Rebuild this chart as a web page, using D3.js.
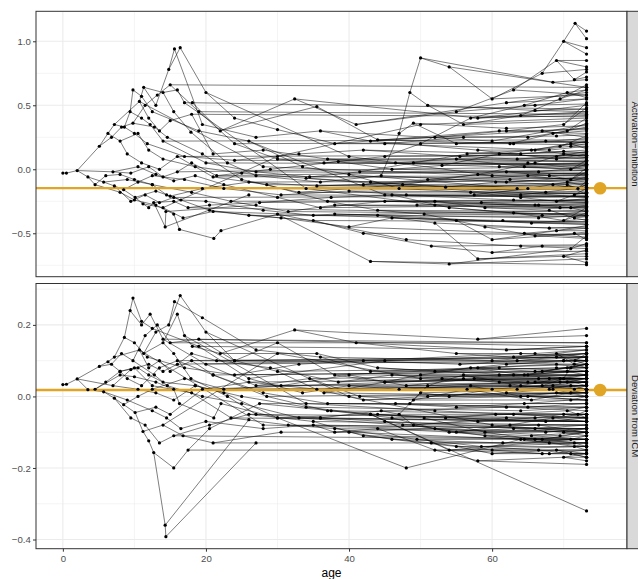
<!DOCTYPE html>
<html><head><meta charset="utf-8">
<script src="https://cdn.jsdelivr.net/npm/d3@7"></script>
<style>
body{margin:0;background:#fff}
svg{display:block}
text{font-family:"Liberation Sans",Arial,Helvetica,sans-serif}
</style>
</head><body>
<svg id="chart" width="638" height="579"></svg>
<script>
// ---------------- DATA ----------------
// Internal lineage nodes (index = id): parent id, age, activation-inhibition, deviation from ICM
const nodeParent = [
  -1, 0, 1, 2, 3, 4, 5, 6, 7, 5,
  9, 9, 4, 2, 13, 13, 15, 16, 17, 18,
  19, 20, 21, 22, 2, 24, 24, 14, 27, 15,
  10, 30, 31, 31, 10, 34, 35, 34, 11, 38,
  8, 40, 12, 42, 6, 44, 43, 36, 39, 37,
  25, 50, 51, 26, 53, 28, 55, 56, 29, 58,
  59, 18, 61, 19, 63, 21, 65, 22, 23, 52,
  54, 57, 71, 47, 48, 49, 33, 76, 32, 69,
  70, 60, 64, 66, 62, 46, 45, 86, 41, 88,
  73, 73, 77, 74, 75, 79, 80, 81, 82, 83,
  84, 85, 87, 89, 72, 78, 90, 91, 92, 93,
  94, 95, 96, 97, 98, 99, 100, 101, 102, 103,
  104, 105, 113, 110, 123, 124, 125, 126, 125, 124,
  111, 112, 114, 116, 117, 119, 122, 115, 108, 109,
  121, 106, 107, 118, 127, 128, 129, 130, 131, 132,
  133, 134, 135, 136, 137, 138, 139, 140, 120, 153,
  149, 148, 151, 150, 147, 142, 141, 145, 143, 146,
  152, 154, 155, 156, 157, 144, 166, 175, 177, 167,
  165, 168, 163, 164, 162, 169, 170, 171, 161, 160,
  159, 172, 173, 174, 158, 176, 186, 182, 188, 184,
  3, 200, 201, 202, 203, 204, 202, 206, 7, 208,
  209, 12, 211, 212, 213, 14, 215, 216, 217, 16,
  219, 220, 221, 17, 223, 205, 225, 226, 207, 228,
  210, 230, 214, 232, 218, 234, 222, 236, 224, 238,
  227, 229, 231, 233, 235, 237, 239, 244, 245, 246,
  243, 242, 240, 252, 251, 249, 250, 248, 247, 241,
  253, 254, 255, 256, 257, 258, 259, 260, 261, 262,
  263, 264, 265, 266, 267, 268, 269, 270, 272, 273,
  106, 141, 90, 108, 118, 121, 140, 138, 157, 130,
  133, 119, 135, 116, 117, 134, 131, 148, 154, 137,
  136, 153, 132, 114, 122, 146, 129, 139, 128, 126,
  142, 107, 143, 111, 123, 36, 315, 9, 76, 318,
  63, 320, 104, 322, 89
];
const nodeAge = [
  0, 0.5, 2.0, 5.1, 6.3, 7.2, 8.6, 9.4, 9.8, 10.7,
  11.3, 12.0, 8.0, 3.5, 4.5, 5.7, 7.2, 8.5, 10.1, 11.2,
  12.0, 12.7, 14.3, 14.4, 7.0, 9.5, 10.5, 8.0, 10.0, 9.0,
  13.0, 14.8, 15.6, 16.4, 14.0, 16.0, 17.0, 15.5, 13.5, 15.0,
  11.0, 12.5, 10.5, 12.0, 10.0, 11.8, 14.0, 18.1, 18.0, 17.9,
  12.0, 14.0, 16.0, 13.0, 15.5, 13.0, 15.5, 16.3, 12.5, 14.5,
  16.5, 13.0, 15.0, 14.0, 16.8, 15.5, 17.5, 26.0, 27.0, 18.0,
  18.5, 21.1, 22.1, 22.0, 21.0, 23.0, 20.0, 24.0, 19.5, 21.5,
  22.5, 20.0, 21.0, 20.5, 19.5, 18.5, 17.0, 24.0, 19.0, 26.0,
  32.4, 35.5, 30.0, 28.0, 27.0, 29.0, 30.0, 28.0, 30.5, 27.5,
  26.0, 25.0, 33.0, 33.5, 30.0, 27.0, 41.0, 44.0, 38.0, 37.0,
  36.0, 38.5, 36.0, 35.0, 40.0, 37.5, 35.5, 34.0, 42.0, 40.0,
  43.0, 36.0, 38.0, 44.5, 47.0, 48.5, 50.0, 54.0, 51.0, 49.0,
  46.0, 45.0, 46.0, 42.0, 43.0, 47.0, 44.0, 46.0, 45.0, 46.5,
  43.0, 55.0, 52.0, 55.5, 60.0, 56.0, 55.0, 53.0, 52.0, 55.0,
  51.0, 53.5, 57.0, 52.0, 54.0, 56.0, 55.0, 58.0, 54.0, 58.0,
  60.0, 59.0, 60.5, 62.0, 61.0, 62.0, 63.0, 64.0, 63.5, 62.5,
  64.0, 63.0, 65.0, 64.5, 66.0, 67.0, 69.0, 70.0, 71.6, 69.5,
  70.0, 69.0, 68.0, 69.5, 70.5, 68.5, 69.0, 70.0, 68.0, 69.0,
  70.0, 70.5, 71.0, 71.0, 71.0, 71.5, 71.5, 71.0, 71.5, 72.0,
  6.8, 8.2, 9.8, 11.5, 13.2, 15.0, 12.8, 14.6, 11.0, 12.2,
  14.0, 9.0, 11.0, 13.5, 16.0, 6.0, 8.0, 10.0, 12.5, 9.5,
  11.5, 13.5, 15.5, 10.5, 12.5, 19.0, 24.0, 30.0, 19.5, 25.0,
  20.0, 27.0, 21.0, 28.5, 18.0, 23.5, 20.5, 26.0, 17.0, 22.5,
  36.5, 33.0, 34.5, 37.0, 31.5, 35.0, 30.5, 38.0, 42.0, 40.0,
  44.0, 41.5, 45.0, 50.0, 49.0, 48.0, 50.5, 51.5, 49.5, 47.5,
  57.0, 56.5, 57.5, 59.0, 60.0, 58.5, 58.0, 64.5, 65.5, 65.0,
  66.0, 67.0, 66.5, 66.0, 70.5, 71.0, 70.5, 71.5, 71.0, 70.0,
  62.0, 66.0, 58.0, 61.0, 64.0, 60.0, 67.0, 68.0, 69.0, 66.5,
  65.0, 63.5, 68.5, 62.5, 64.0, 67.5, 66.0, 69.5, 67.0, 63.0,
  65.5, 68.0, 61.5, 64.5, 66.5, 67.5, 62.0, 65.0, 66.0, 68.5,
  69.0, 63.0, 70.0, 61.0, 62.0, 34.0, 52.0, 28.0, 40.0, 60.0,
  30.0, 50.0, 48.0, 64.0, 45.0
];
const nodeAct = [
  -0.03, -0.03, -0.01, 0.18, 0.28, 0.35, 0.33, 0.45, 0.62, 0.53,
  0.64, 0.40, 0.22, -0.06, -0.12, -0.10, -0.13, -0.16, -0.22, -0.27,
  -0.30, -0.26, -0.45, -0.33, -0.02, -0.03, 0.02, -0.18, -0.24, -0.08,
  0.50, 0.78, 0.94, 0.95, 0.60, 0.62, 0.52, 0.45, 0.30, 0.38,
  0.57, 0.45, 0.28, 0.15, 0.28, 0.20, 0.08, 0.52, 0.43, 0.29,
  0.02, -0.06, -0.02, -0.04, -0.09, -0.28, -0.35, -0.47, -0.12, -0.20,
  -0.24, -0.17, -0.21, -0.30, -0.38, -0.25, -0.30, -0.20, -0.28, 0.05,
  -0.05, -0.54, -0.48, 0.30, 0.12, 0.05, 0.60, 0.40, 0.35, -0.05,
  -0.12, -0.25, -0.33, -0.28, -0.15, 0.02, 0.10, 0.07, 0.30, 0.22,
  0.55, 0.49, 0.31, 0.15, -0.05, 0.00, -0.22, -0.32, -0.38, -0.26,
  -0.10, -0.03, 0.12, 0.02, -0.35, 0.25, 0.35, 0.23, 0.20, 0.08,
  -0.10, 0.06, -0.30, -0.36, -0.45, -0.22, -0.13, -0.07, 0.15, -0.04,
  -0.72, 0.30, -0.35, -0.05, 0.28, 0.60, 0.87, 0.80, 0.50, 0.36,
  0.00, -0.25, -0.38, -0.12, -0.10, -0.15, -0.36, -0.20, 0.20, 0.05,
  0.22, 0.45, 0.25, 0.10, 0.55, 0.35, 0.20, 0.03, -0.25, -0.40,
  -0.08, -0.14, -0.18, -0.42, -0.30, 0.25, 0.08, 0.15, -0.74, -0.70,
  -0.55, -0.30, -0.10, -0.02, 0.12, 0.30, 0.62, 0.42, 0.08, 0.20,
  -0.22, -0.34, 0.25, 0.02, 0.15, 0.75, 0.85, 1.00, 1.14, 0.55,
  0.35, 0.10, -0.05, 0.18, -0.12, 0.28, -0.25, -0.40, -0.32, -0.48,
  -0.68, 0.30, 0.00, 0.18, -0.62, 0.70, -0.20, -0.08, -0.38, -0.15,
  0.25, 0.33, 0.36, 0.50, 0.58, 0.66, 0.33, 0.25, 0.40, 0.35,
  0.22, 0.12, 0.05, 0.00, 0.10, -0.05, -0.04, -0.08, -0.12, -0.25,
  -0.20, -0.26, -0.22, -0.10, -0.05, 0.45, 0.20, 0.08, 0.12, -0.08,
  0.05, -0.02, -0.06, -0.12, -0.18, -0.25, -0.32, -0.36, -0.08, -0.15,
  0.05, -0.18, -0.06, -0.25, -0.33, -0.40, -0.20, -0.28, -0.50, -0.17,
  -0.32, -0.02, 0.10, 0.20, 0.05, -0.20, -0.35, -0.60, -0.28, -0.12,
  0.40, 0.12, -0.20, -0.45, -0.65, -0.26, -0.04, 0.50, 0.15, -0.15,
  -0.52, -0.60, -0.28, 0.05, 0.60, 0.20, -0.10, -0.50, -0.30, 0.12,
  0.52, 0.50, 0.40, 0.30, 0.12, 0.22, 0.30, 0.15, 0.08, -0.02,
  -0.05, -0.15, -0.12, -0.08, -0.20, -0.18, -0.28, -0.30, -0.36, -0.24,
  -0.42, -0.46, -0.40, -0.50, -0.38, 0.22, 0.32, 0.05, 0.46, 0.68,
  0.26, 0.20, 0.14, 0.02, -0.10, -0.15, -0.28, 0.02, 0.10, -0.05,
  0.10, 0.35, -0.55, -0.60, -0.20
];
const nodeDev = [
  0.033, 0.034, 0.049, 0.084, 0.097, 0.110, 0.165, 0.240, 0.275, 0.130,
  0.120, 0.080, 0.070, 0.019, 0.020, 0.013, -0.005, -0.023, -0.045, -0.098,
  -0.124, -0.157, -0.360, -0.392, 0.030, 0.075, 0.020, 0.060, 0.055, -0.010,
  0.180, 0.200, 0.265, 0.282, 0.150, 0.230, 0.170, 0.120, 0.100, 0.070,
  0.210, 0.190, 0.080, 0.060, 0.150, 0.110, 0.040, 0.140, 0.100, 0.050,
  0.090, 0.070, 0.090, 0.010, -0.010, 0.040, 0.020, -0.020, -0.040, -0.060,
  -0.090, -0.030, -0.050, -0.080, -0.110, -0.200, -0.150, -0.065, -0.130, 0.120,
  0.030, -0.060, -0.020, 0.120, 0.060, 0.000, 0.180, 0.100, 0.220, 0.100,
  0.010, -0.070, -0.130, -0.090, 0.020, 0.030, 0.080, 0.060, 0.140, 0.050,
  0.186, 0.120, 0.150, 0.010, -0.050, 0.080, -0.060, -0.090, -0.100, -0.020,
  0.040, 0.000, 0.090, 0.010, -0.060, 0.130, 0.150, 0.080, 0.060, -0.020,
  -0.060, 0.040, -0.060, -0.080, -0.100, -0.040, 0.020, -0.030, 0.100, 0.030,
  -0.050, 0.110, -0.100, -0.040, -0.050, -0.020, 0.010, 0.000, 0.030, -0.080,
  0.060, -0.070, -0.120, -0.010, -0.050, 0.020, -0.090, -0.060, 0.040, -0.020,
  0.070, 0.120, 0.070, 0.090, 0.020, 0.060, -0.100, 0.050, -0.090, -0.140,
  0.000, -0.060, 0.030, -0.150, -0.100, 0.050, -0.030, 0.080, -0.150, -0.180,
  -0.160, -0.110, -0.050, 0.010, 0.040, 0.090, 0.110, 0.030, 0.100, -0.080,
  0.000, -0.090, 0.060, -0.020, 0.070, 0.030, 0.120, 0.050, 0.100, 0.050,
  0.100, 0.110, 0.020, 0.040, -0.040, -0.060, 0.010, -0.100, -0.130, -0.150,
  -0.170, 0.070, -0.010, 0.080, -0.120, 0.090, 0.020, 0.030, -0.140, -0.050,
  0.090, 0.120, 0.100, 0.170, 0.200, 0.150, 0.060, 0.030, 0.200, 0.230,
  0.160, 0.050, 0.030, 0.080, 0.100, 0.040, 0.070, 0.080, 0.030, -0.060,
  -0.080, -0.130, -0.110, 0.000, 0.020, 0.160, 0.100, 0.070, 0.000, -0.020,
  0.090, 0.030, 0.060, 0.000, 0.010, -0.060, -0.080, -0.050, 0.050, 0.020,
  0.010, -0.060, 0.050, -0.040, -0.080, -0.070, 0.030, -0.090, -0.110, 0.060,
  -0.050, 0.000, 0.040, 0.060, -0.010, 0.030, -0.060, -0.130, -0.120, -0.080,
  0.080, 0.020, 0.050, -0.100, -0.150, -0.140, -0.070, 0.060, -0.010, 0.040,
  -0.120, -0.160, -0.150, -0.060, 0.080, 0.010, 0.040, -0.130, -0.160, -0.050,
  0.130, 0.120, 0.160, 0.080, 0.120, 0.100, 0.070, 0.050, 0.090, 0.050,
  0.000, 0.020, 0.030, 0.030, -0.040, -0.070, -0.090, -0.110, -0.120, -0.050,
  -0.110, -0.160, -0.130, -0.120, -0.080, -0.100, -0.060, -0.030, 0.040, 0.020,
  0.080, 0.060, 0.100, 0.060, -0.030, -0.020, -0.040, -0.080, 0.000, -0.080,
  0.120, 0.050, -0.200, -0.120, 0.100
];
// Terminal observations, all at the final age
const finalAge = 73.2;
const leafParent = [
  178, 178, 177, 177, 176, 176, 195, 195, 179, 179,
  166, 180, 180, 167, 191, 191, 185, 185, 183, 183,
  193, 193, 181, 181, 192, 192, 197, 197, 182, 199,
  199, 196, 196, 184, 186, 186, 187, 187, 198, 198,
  189, 189, 194, 194, 190, 190, 190, 120, 280, 281,
  282, 283, 284, 285, 286, 287, 288, 174, 289, 147,
  164, 163, 150, 290, 291, 292, 152, 170, 293, 294,
  295, 151, 162, 296, 297, 161, 298, 171, 299, 300,
  301, 149, 160, 159, 158, 302, 303, 304, 113, 112,
  305, 169, 306, 156, 173, 307, 109, 308, 145, 144,
  127, 309, 175, 310, 165, 311, 312, 168, 313, 314,
  47, 48, 52, 84, 100, 66, 82, 99, 79, 87,
  274, 274, 275, 275, 276, 276, 277, 277, 278, 278,
  279, 279, 271, 270, 260, 267, 262, 265, 263, 264,
  266, 261, 225, 226, 227, 230, 231, 232, 233, 235,
  237, 239, 240, 241, 242, 243, 244, 245, 246, 247,
  248, 249, 250, 251, 252, 253, 254, 255, 256, 257,
  258, 259, 205, 210, 214, 222, 316, 319, 321, 323,
  324, 317, 280, 282, 286, 290, 296, 300, 303, 308,
  313
];
const leafAct = [
  1.08, 1.02, 0.95, 0.90, 0.85, 0.80, 0.76, 0.72, 0.66, 0.62,
  0.58, 0.52, 0.48, 0.44, 0.40, 0.36, 0.33, 0.30, 0.26, 0.22,
  0.20, 0.17, 0.14, 0.11, 0.07, 0.04, 0.01, -0.02, -0.05, -0.09,
  -0.12, -0.15, -0.18, -0.20, -0.23, -0.26, -0.30, -0.34, -0.37, -0.40,
  -0.44, -0.48, -0.52, -0.58, -0.63, -0.68, -0.73, -0.745, 0.60, 0.55,
  0.50, 0.28, 0.15, 0.35, 0.25, 0.18, 0.12, 0.10, 0.02, 0.05,
  0.08, -0.04, -0.07, -0.10, -0.13, -0.16, -0.19, -0.21, -0.11, -0.14,
  -0.17, -0.22, -0.08, -0.27, -0.29, -0.31, -0.33, -0.36, -0.25, -0.39,
  -0.45, -0.42, -0.50, -0.66, -0.70, -0.41, -0.46, -0.36, -0.32, -0.28,
  0.21, 0.19, 0.34, 0.06, 0.03, 0.00, 0.09, 0.45, 0.38, 0.58,
  0.64, 0.70, 0.78, 0.27, 0.31, 0.24, 0.13, 0.09, 0.05, -0.06,
  0.47, 0.41, 0.02, -0.12, -0.09, -0.35, -0.43, -0.24, -0.01, 0.06,
  0.62, 0.56, 0.21, 0.16, -0.06, -0.13, -0.49, -0.55, -0.28, -0.33,
  0.12, 0.09, -0.60, -0.54, 0.42, 0.51, -0.19, -0.24, -0.46, -0.64,
  -0.03, 0.13, 0.43, 0.21, 0.07, 0.04, -0.03, -0.05, -0.14, -0.24,
  -0.37, -0.16, 0.04, -0.19, -0.07, -0.26, -0.35, -0.41, -0.21, -0.30,
  -0.51, -0.18, -0.33, -0.01, 0.11, 0.22, 0.03, -0.21, -0.36, -0.59,
  -0.27, -0.11, 0.64, 0.23, 0.11, -0.21, -0.30, -0.03, 0.40, -0.62,
  -0.22, -0.08, 0.55, 0.45, 0.32, -0.04, -0.29, -0.43, -0.53, 0.47,
  0.00
];
const leafDev = [
  0.12, 0.09, 0.06, 0.04, 0.13, 0.11, 0.10, 0.08, 0.05, 0.03,
  0.12, 0.10, 0.11, 0.02, 0.07, 0.06, -0.05, -0.07, 0.04, 0.05,
  0.09, 0.08, 0.12, 0.10, -0.01, 0.00, 0.03, 0.02, 0.01, -0.04,
  -0.06, 0.02, 0.03, -0.03, 0.00, 0.01, -0.09, -0.11, -0.14, -0.15,
  -0.16, -0.17, -0.12, -0.11, -0.17, -0.18, -0.16, -0.32, 0.14, 0.13,
  0.19, 0.07, 0.11, 0.12, 0.09, 0.06, 0.08, 0.07, 0.05, 0.04,
  0.05, 0.01, 0.00, -0.01, 0.03, 0.02, 0.04, 0.00, 0.02, -0.03,
  -0.06, -0.07, -0.05, -0.08, -0.10, -0.12, -0.10, -0.09, -0.06, -0.10,
  -0.15, -0.14, -0.16, -0.19, -0.14, -0.12, -0.11, -0.10, -0.09, -0.07,
  -0.09, -0.08, -0.07, -0.03, -0.02, -0.02, -0.03, 0.04, 0.05, 0.02,
  0.01, 0.02, 0.04, 0.08, 0.10, 0.07, 0.10, 0.11, 0.05, -0.04,
  0.13, 0.09, 0.11, 0.06, 0.05, -0.15, -0.13, -0.02, 0.10, 0.07,
  0.09, 0.07, 0.00, 0.02, 0.05, 0.04, -0.13, -0.14, -0.17, -0.16,
  -0.05, -0.06, -0.16, -0.12, 0.09, 0.06, 0.05, -0.13, -0.09, -0.15,
  -0.07, 0.03, 0.14, 0.11, 0.08, 0.10, 0.04, 0.07, 0.01, -0.07,
  -0.06, 0.03, 0.00, -0.07, 0.06, -0.05, -0.09, -0.08, 0.03, -0.10,
  -0.12, 0.06, -0.05, 0.01, 0.05, 0.06, -0.01, 0.04, -0.06, -0.13,
  -0.12, -0.08, 0.15, 0.15, 0.11, -0.12, -0.06, -0.10, 0.03, -0.14,
  0.12, -0.10, 0.14, 0.17, 0.09, -0.01, -0.10, -0.12, -0.13, 0.05,
  0.07
];
// Summary (mean) per facet, drawn as a line and a large dot
const summaryAge = 75.1;
const facetMeans = [-0.148, 0.018];
const facetLabels = ["Activation\u2212inhibition", "Deviation from ICM"];
const xTicks = [0, 20, 40, 60];
const actTicks = [-0.5, 0, 0.5, 1.0];
const devTicks = [-0.4, -0.2, 0, 0.2];
const xTitle = "age";

// ---------------- LAYOUT / STYLE ----------------
const svg = d3.select("#chart");
const plotLeft = 36, plotRight = 627;
const panelBox = [{top: 11.3, bottom: 276.7}, {top: 283.5, bottom: 548.7}];
const stripWidth = 18;
const gridCol = "#EBEBEB", borderCol = "#333333", tickTextCol = "#4D4D4D";
const lineCol = "rgba(0,0,0,0.6)";
const meanCol = "#E1A526";
const tickFont = 9.6;

function pad(ext) { const d = (ext[1] - ext[0]) * 0.05; return [ext[0] - d, ext[1] + d]; }

const x = d3.scaleLinear()
  .domain(pad(d3.extent(nodeAge.concat([finalAge, summaryAge]))))
  .range([plotLeft, plotRight]);

const facetNodeVals = [nodeAct, nodeDev];
const facetLeafVals = [leafAct, leafDev];
const facetTicks = [actTicks, devTicks];

facetNodeVals.forEach((nv, f) => {
  const lv = facetLeafVals[f];
  const box = panelBox[f];
  const y = d3.scaleLinear()
    .domain(pad(d3.extent(nv.concat(lv, [facetMeans[f]]))))
    .range([box.bottom, box.top]);
  const g = svg.append("g");
  const clipId = "clip" + f;
  svg.append("clipPath").attr("id", clipId).append("rect")
    .attr("x", plotLeft).attr("y", box.top)
    .attr("width", plotRight - plotLeft).attr("height", box.bottom - box.top);

  g.append("rect").attr("x", plotLeft).attr("y", box.top)
    .attr("width", plotRight - plotLeft).attr("height", box.bottom - box.top).attr("fill", "#fff");

  // grid
  const yt = facetTicks[f];
  const ystep = yt[1] - yt[0];
  const yMinor = [yt[0] - ystep / 2].concat(yt.map(t => t + ystep / 2))
    .filter(v => v > y.domain()[0] && v < y.domain()[1]);
  const xstep = xTicks[1] - xTicks[0];
  const xMinor = [xTicks[0] - xstep / 2].concat(xTicks.map(t => t + xstep / 2))
    .filter(v => v > x.domain()[0] && v < x.domain()[1]);
  const grid = g.append("g").attr("clip-path", `url(#${clipId})`);
  grid.selectAll(".ymn").data(yMinor).join("line")
    .attr("x1", plotLeft).attr("x2", plotRight).attr("y1", d => y(d)).attr("y2", d => y(d))
    .attr("stroke", gridCol).attr("stroke-width", 0.55);
  grid.selectAll(".xmn").data(xMinor).join("line")
    .attr("y1", box.top).attr("y2", box.bottom).attr("x1", d => x(d)).attr("x2", d => x(d))
    .attr("stroke", gridCol).attr("stroke-width", 0.55);
  grid.selectAll(".ymj").data(yt).join("line")
    .attr("x1", plotLeft).attr("x2", plotRight).attr("y1", d => y(d)).attr("y2", d => y(d))
    .attr("stroke", gridCol).attr("stroke-width", 1.1);
  grid.selectAll(".xmj").data(xTicks).join("line")
    .attr("y1", box.top).attr("y2", box.bottom).attr("x1", d => x(d)).attr("x2", d => x(d))
    .attr("stroke", gridCol).attr("stroke-width", 1.1);

  const marks = g.append("g").attr("clip-path", `url(#${clipId})`);
  const segs = [];
  nodeParent.forEach((p, i) => { if (p >= 0) segs.push([nodeAge[p], nv[p], nodeAge[i], nv[i]]); });
  leafParent.forEach((p, i) => segs.push([nodeAge[p], nv[p], finalAge, lv[i]]));
  marks.selectAll("line.seg").data(segs).join("line").attr("class", "seg")
    .attr("x1", d => x(d[0])).attr("y1", d => y(d[1]))
    .attr("x2", d => x(d[2])).attr("y2", d => y(d[3]))
    .attr("stroke", lineCol).attr("stroke-width", 0.85);

  marks.append("line")
    .attr("x1", plotLeft).attr("x2", plotRight)
    .attr("y1", y(facetMeans[f])).attr("y2", y(facetMeans[f]))
    .attr("stroke", meanCol).attr("stroke-width", 2.3);

  const pts = nodeAge.map((a, i) => [a, nv[i]]).concat(lv.map(v => [finalAge, v]));
  marks.selectAll("circle.pt").data(pts).join("circle").attr("class", "pt")
    .attr("cx", d => x(d[0])).attr("cy", d => y(d[1])).attr("r", 1.6).attr("fill", "#000");

  marks.append("circle").attr("cx", x(summaryAge)).attr("cy", y(facetMeans[f]))
    .attr("r", 6.3).attr("fill", meanCol);

  g.append("rect").attr("x", plotLeft).attr("y", box.top)
    .attr("width", plotRight - plotLeft).attr("height", box.bottom - box.top)
    .attr("fill", "none").attr("stroke", borderCol).attr("stroke-width", 1);

  const fmt = d3.format(".1f");
  const ya = g.append("g").attr("transform", `translate(${plotLeft},0)`)
    .call(d3.axisLeft(y).tickValues(yt).tickSize(3).tickPadding(2.2)
      .tickFormat(d => fmt(d).replace("-", "\u2212")));
  ya.select(".domain").remove();
  ya.selectAll(".tick line").attr("stroke", borderCol).attr("stroke-width", 1);
  ya.selectAll(".tick text").attr("fill", tickTextCol).attr("font-size", tickFont)
    .attr("font-family", '"Liberation Sans",Arial,sans-serif');

  g.append("rect").attr("x", plotRight).attr("y", box.top)
    .attr("width", stripWidth).attr("height", box.bottom - box.top)
    .attr("fill", "#D9D9D9").attr("stroke", borderCol).attr("stroke-width", 1);
  g.append("text")
    .attr("transform", `translate(${plotRight + 5},${(box.top + box.bottom) / 2}) rotate(90)`)
    .attr("text-anchor", "middle").attr("font-size", tickFont).attr("fill", "#1A1A1A")
    .text(facetLabels[f]);

  if (f === 1) {
    const xa = g.append("g").attr("transform", `translate(0,${box.bottom})`)
      .call(d3.axisBottom(x).tickValues(xTicks).tickSize(3).tickPadding(3.6).tickFormat(d3.format("d")));
    xa.select(".domain").remove();
    xa.selectAll(".tick line").attr("stroke", borderCol).attr("stroke-width", 1);
    xa.selectAll(".tick text").attr("fill", tickTextCol).attr("font-size", tickFont)
      .attr("font-family", '"Liberation Sans",Arial,sans-serif');
  }
});

svg.append("text").attr("x", (plotLeft + plotRight) / 2).attr("y", 577)
  .attr("text-anchor", "middle").attr("font-size", 12).attr("fill", "#000").text(xTitle);
</script>
</body></html>
